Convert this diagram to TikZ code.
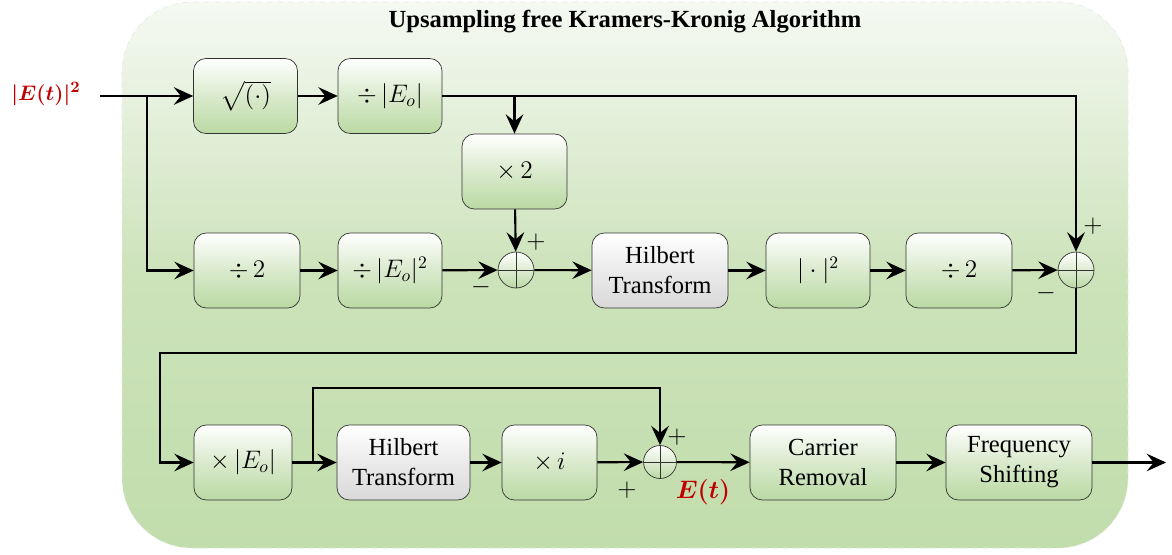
\documentclass[tikz,border=0pt]{standalone}
\usepackage{amsmath,amssymb}
\usepackage{fontspec}
\setmainfont{Liberation Serif}
\usetikzlibrary{calc,positioning,arrows.meta,shapes}
\definecolor{boxgreen}{HTML}{BAD9A3}
\definecolor{bgtop}{HTML}{F5F9F2}
\definecolor{bgbottom}{HTML}{C2DDAC}
\definecolor{sigred}{HTML}{C00000}
\newcommand{\Eo}{|E_o|}

\tikzset{
	block/.style={draw=black!80, rounded corners=7pt, minimum width=2.08cm, minimum height=1.5cm,
		top color=white, bottom color=boxgreen, middle color=boxgreen!55, align=center,
		font=\fontsize{14}{17}\selectfont},
	hblock/.style={block, top color=white, bottom color=black!15, middle color=black!8},
	sumnode/.style={draw=black!80, circle, minimum size=0.72cm, inner sep=0pt,
		top color=white, bottom color=boxgreen,
		path picture={\draw[black!80] (path picture bounding box.north) -- (path picture bounding box.south)
			(path picture bounding box.west) -- (path picture bounding box.east);}},
	flow/.style={-{Stealth[length=11pt,width=10pt,inset=4pt]}, line width=1.2pt},
	sgn/.style={font=\fontsize{15}{15}\selectfont, inner sep=0pt}
}

\begin{document}
\begin{tikzpicture}[x=0.02cm, y=-0.02cm]
		\useasboundingbox (0,0) rectangle (1172,554);
		% background panel
		\draw[draw=green!25!black!10, dashed, rounded corners=1.4cm, top color=bgtop, bottom color=bgbottom, middle color=bgbottom!80!bgtop]
			(122,2) rectangle (1128,548);
		\node[font=\fontsize{14}{16}\selectfont\bfseries] (title) at (625,22) {Upsampling free Kramers-Kronig Algorithm};
		
		% row 1
		\node[block] (sqrt) at (245.5,96) {$\sqrt{(\cdot)}$};
		\node[block] (divEo) at (390,96) {$\div\,\Eo$};
		\node[block, minimum width=2.1cm] (times2) at (514.5,171.5) {$\times\,2$};
		% row 2
		\node[block, minimum width=2.12cm] (div2a) at (247,270.5) {$\div\,2$};
		\node[block] (divEo2) at (390,270.5) {$\div\,\Eo^2$};
		\node[sumnode] (sum1) at (516,270) {};
		\node[hblock, minimum width=2.72cm] (hil1) at (660,270.5) {Hilbert\\Transform};
		\node[block] (abs) at (818,270.5) {$|\cdot|^2$};
		\node[block, minimum width=2.12cm] (div2b) at (959,270.5) {$\div\,2$};
		\node[sumnode] (sum2) at (1076,270) {};
		% row 3
		\node[block, minimum width=1.96cm] (mulEo) at (243,462.5) {$\times\,\Eo$};
		\node[hblock, minimum width=2.66cm] (hil2) at (403.5,462.5) {Hilbert\\Transform};
		\node[block, minimum width=1.9cm] (muli) at (549.5,462.5) {$\times\,i$};
		\node[sumnode, minimum size=0.66cm] (sum3) at (660,462) {};
		\node[block, minimum width=2.92cm] (carrier) at (823,462.5) {Carrier\\Removal};
		\node[block, minimum width=2.92cm] (freq) at (1019,462.5) {Frequency\\Shifting};
		
		% signals
		\node[text=sigred, font=\fontsize{12.5}{13}\selectfont] (input) at (46,94) {$\boldsymbol{|E(t)|^2}$};
		\node[text=sigred, font=\fontsize{14}{14}\selectfont] (Et) at (703,492) {$\boldsymbol{E(t)}$};
		\coordinate (in) at (100,96);
		\coordinate (split1) at (147,96);
		\coordinate (turn) at (160,353);
		\coordinate (split2) at (313,462.5);
		\coordinate (loop) at (313,388);
		\coordinate (out) at (1166,462.5);
		
		% connectors
		\draw[flow] (in) -- (sqrt);
		\draw[flow] (split1) |- (div2a);
		\draw[flow] (sqrt) -- (divEo);
		\draw[flow] (divEo) -| (sum2);
		\draw[flow] (divEo.east -| times2.north) -- (times2);
		\draw[flow] (times2) -- (sum1);
		\draw[flow] (div2a) -- (divEo2);
		\draw[flow] (divEo2) -- (sum1);
		\draw[flow] (sum1) -- (hil1);
		\draw[flow] (hil1) -- (abs);
		\draw[flow] (abs) -- (div2b);
		\draw[flow] (div2b) -- (sum2);
		\draw[flow] (sum2) |- (turn) |- (mulEo);
		\draw[flow] (mulEo) -- (hil2);
		\draw[flow] (split2) -- (loop) -| (sum3);
		\draw[flow] (hil2) -- (muli);
		\draw[flow] (muli) -- (sum3);
		\draw[flow] (sum3) -- (carrier);
		\draw[flow] (carrier) -- (freq);
		\draw[flow] (freq) -- (out);
		
		% signs
		\node[sgn] (p1) at ($(sum1)+(20,-28)$) {$+$};
		\node[sgn] (m1) at ($(sum1)+(-35,17)$) {$-$};
		\node[sgn] (p2) at ($(sum2)+(17,-44)$) {$+$};
		\node[sgn] (m2) at ($(sum2)+(-30,23)$) {$-$};
		\node[sgn] (p3) at ($(sum3)+(17,-25)$) {$+$};
		\node[sgn] (p4) at ($(sum3)+(-33,28)$) {$+$};
\end{tikzpicture}
\end{document}
